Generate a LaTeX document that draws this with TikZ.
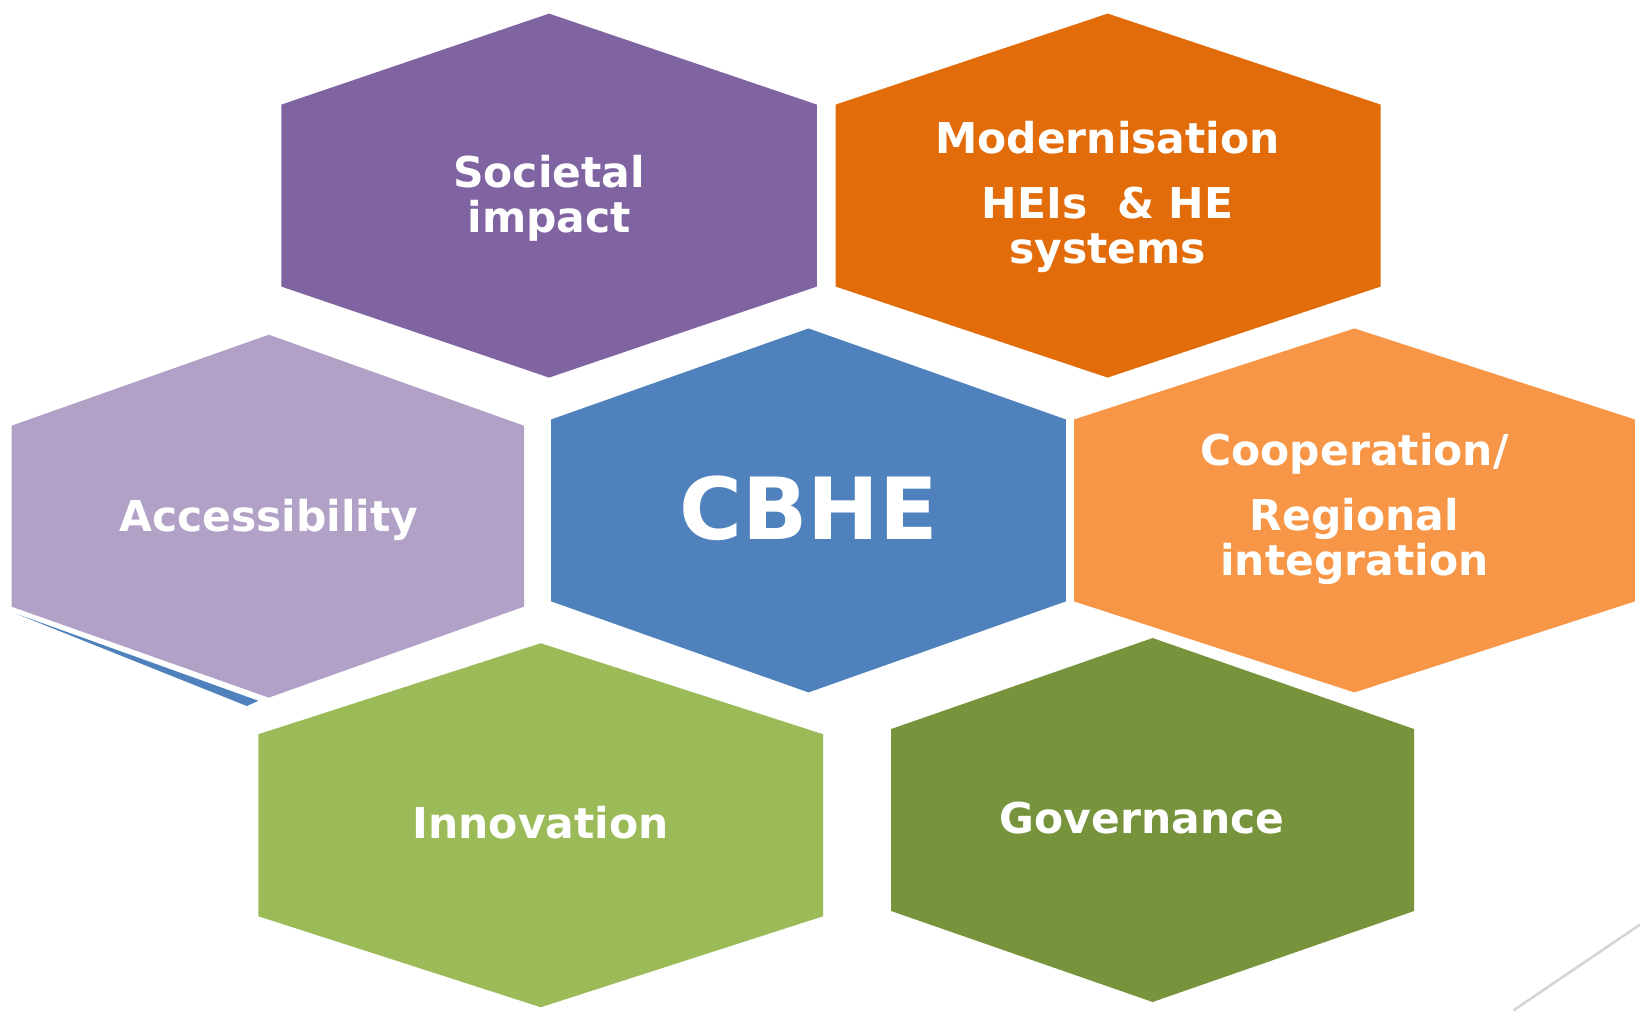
\documentclass[tikz,border=0pt]{standalone}
\usepackage{fontspec}
\setmainfont{DejaVu Sans}
\definecolor{cpurple}{HTML}{8064A2}
\definecolor{corange}{HTML}{E36C0A}
\definecolor{clilac}{HTML}{B2A1C7}
\definecolor{cblue}{HTML}{4F81BD}
\definecolor{clorange}{HTML}{F79646}
\definecolor{clgreen}{HTML}{9BBB59}
\definecolor{cdgreen}{HTML}{77933C}
\definecolor{cgray}{HTML}{D4D4D4}
\tikzset{
  lbl/.style={text=white, anchor=base, inner sep=0pt, font=\bfseries\fontsize{20.3}{22}\selectfont},
  biglbl/.style={text=white, anchor=base, inner sep=0pt, font=\bfseries\fontsize{41}{44}\selectfont}
}
\begin{document}
\begin{tikzpicture}[x=0.5pt,y=-0.5pt]
\useasboundingbox (0,0) rectangle (1568,966);
% hexagons
\fill[cpurple] (525,13)--(781,100)--(781,274)--(525,361)--(269,274)--(269,100)--cycle;
\fill[corange] (1059,13)--(1320,100)--(1320,274)--(1059,361)--(799,274)--(799,100)--cycle;
\fill[clilac] (257,320)--(501,407)--(501,580)--(257,667)--(11,580)--(11,407)--cycle;
\fill[cblue] (773,314)--(1019,401)--(1019,575)--(773,662)--(527,575)--(527,401)--cycle;
\fill[clorange] (1295,314)--(1563,401)--(1563,575)--(1295,662)--(1027,575)--(1027,401)--cycle;
\fill[clgreen] (517,615)--(787,702)--(787,876)--(517,963)--(247,876)--(247,702)--cycle;
\fill[cdgreen] (1102,610)--(1352,697)--(1352,871)--(1102,958)--(852,871)--(852,697)--cycle;
% decorative sliver and line
\fill[cblue] (16,587)--(247,670)--(236,675)--cycle;
\draw[cgray, line width=1.2pt] (1447,966)--(1568,884);
% labels
\node[lbl] (s1) at (525,179) {Societal};
\node[lbl] (s2) at (525,222) {impact};
\node[lbl] (m1) at (1059,147) {Modernisation};
\node[lbl] (m2) at (1059,209) {HEIs\ \ \& HE};
\node[lbl] (m3) at (1059,252) {systems};
\node[lbl] (a1) at (257,508) {Accessibility};
\node[biglbl] (c1) at (773,516) {CBHE};
\node[lbl] (k1) at (1295,445) {Cooperation/};
\node[lbl] (k2) at (1295,507) {Regional};
\node[lbl] (k3) at (1295,550) {integration};
\node[lbl] (i1) at (517,802) {Innovation};
\node[lbl] (g1) at (1092,797) {Governance};
\end{tikzpicture}
\end{document}
